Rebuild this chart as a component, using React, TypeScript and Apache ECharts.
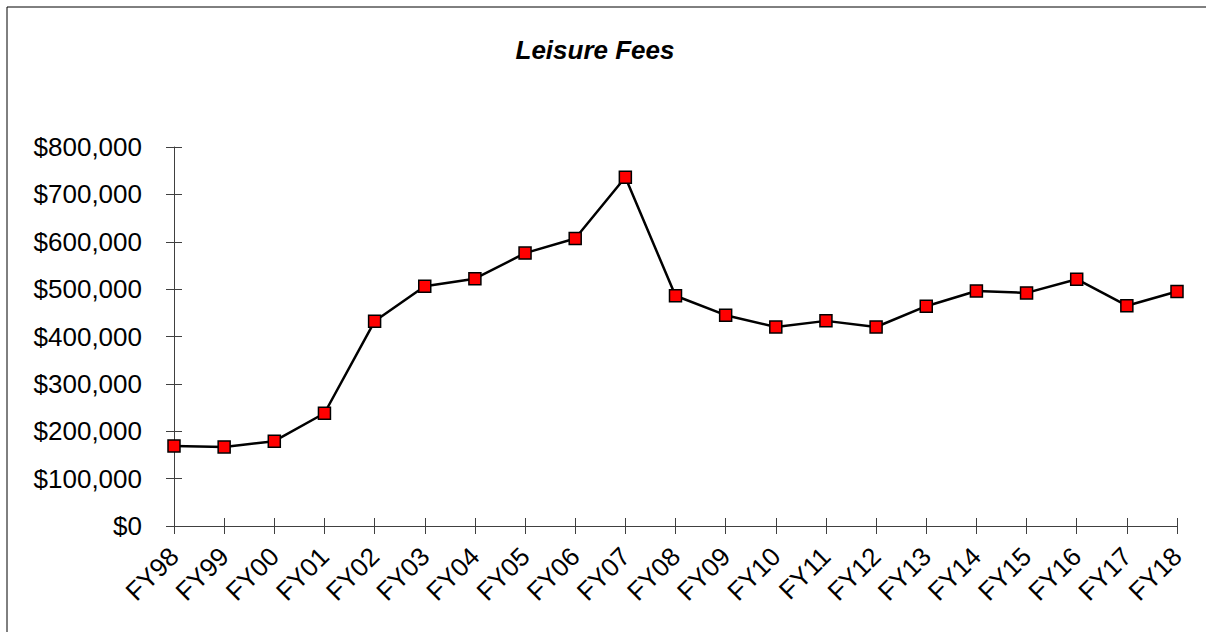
import React, { useEffect, useRef } from "react";
import * as echarts from "echarts";

const categories = ["FY98","FY99","FY00","FY01","FY02","FY03","FY04","FY05","FY06","FY07","FY08","FY09","FY10","FY11","FY12","FY13","FY14","FY15","FY16","FY17","FY18"];
const fees = [169000,167000,179000,238000,432000,506000,522000,576000,607000,736000,486000,445000,420000,433000,420000,464000,496000,492000,521000,465000,495000];
const titleText = "Leisure Fees";

const FONT = "Liberation Sans, Arial, sans-serif";

export default function App() {
  const ref = useRef<HTMLDivElement>(null);
  useEffect(() => {
    if (!ref.current) return;
    const chart = echarts.init(ref.current, null, { renderer: "svg" });
    const axisColor = "#404040";
    const fmt = (v: number) => "$" + v.toLocaleString("en-US");
    chart.setOption({
      animation: false,
      backgroundColor: "#ffffff",
      title: {
        text: titleText,
        left: 590,
        top: 32,
        textAlign: "center",
        textStyle: { fontFamily: FONT, fontSize: 26, fontWeight: "bold", fontStyle: "italic", color: "#000" },
      },
      graphic: [
        { type: "rect", shape: { x: 7, y: 7, width: 1220, height: 650 }, style: { fill: "none", stroke: "#000", lineWidth: 1 }, silent: true },
      ],
      grid: { left: 174, right: 29, top: 147, bottom: 106, containLabel: false },
      xAxis: [
        {
          type: "category",
          data: categories,
          boundaryGap: false,
          axisLine: { lineStyle: { color: axisColor, width: 1 } },
          axisTick: { show: true, length: 8, lineStyle: { color: axisColor } },
          axisLabel: { rotate: 45, fontFamily: FONT, fontSize: 26, color: "#000", margin: 26, interval: 0 },
          splitLine: { show: false },
        },
        {
          type: "category",
          data: categories,
          boundaryGap: false,
          position: "bottom",
          axisLine: { show: false },
          axisTick: { show: true, inside: true, length: 8, lineStyle: { color: axisColor } },
          axisLabel: { show: false },
          splitLine: { show: false },
        },
      ],
      yAxis: [
        {
          type: "value",
          min: 0,
          max: 800000,
          interval: 100000,
          axisLine: { show: true, lineStyle: { color: axisColor, width: 1 } },
          axisTick: { show: true, length: 8, lineStyle: { color: axisColor } },
          axisLabel: { fontFamily: FONT, fontSize: 26, color: "#000", margin: 32, formatter: fmt },
          splitLine: { show: false },
        },
        {
          type: "value",
          min: 0,
          max: 800000,
          interval: 100000,
          position: "left",
          axisLine: { show: false },
          axisTick: { show: true, inside: true, length: 8, lineStyle: { color: axisColor } },
          axisLabel: { show: false },
          splitLine: { show: false },
        },
      ],
      series: [
        {
          type: "line",
          data: fees,
          xAxisIndex: 0,
          yAxisIndex: 0,
          symbol: "rect",
          symbolSize: 12,
          lineStyle: { color: "#000", width: 2.5 },
          itemStyle: { color: "#ff0000", borderColor: "#000", borderWidth: 1.5 },
        },
      ],
    });
    return () => chart.dispose();
  }, []);
  return <div ref={ref} style={{ position: "absolute", left: 0, top: 0, width: 1206, height: 632 }} />;
}
